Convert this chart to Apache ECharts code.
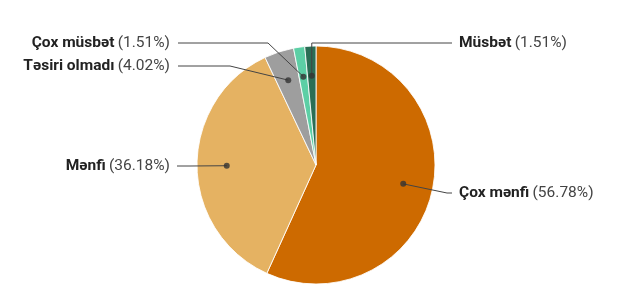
<!DOCTYPE html>
<html>
<head>
<meta charset="utf-8">
<script src="https://cdn.jsdelivr.net/npm/echarts@6/dist/echarts.min.js"></script>
<style>html,body{margin:0;padding:0;background:#fff}#c{width:635px;height:304px}</style>
</head>
<body>
<div id="c"></div>
<script>
// Data
const categories = ['Çox mənfi', 'Mənfi', 'Təsiri olmadı', 'Çox müsbət', 'Müsbət'];
const values = [56.78, 36.18, 4.02, 1.51, 1.51];
const colors = ['#CD6A00', '#E5B262', '#9E9E9E', '#5CCFA5', '#2A6E55'];

// Layout (positions of labels / leader lines)
const CX = 316, CY = 165, R = 119, DOT_R = 0.75;
const LABELS = [
  { x: 459, y: 193, align: 'left',  mid: [447, 193], end: [452, 193] },
  { x: 170, y: 166, align: 'right', mid: [190, 166], end: [177, 166] },
  { x: 170, y: 66,  align: 'right', mid: [230, 66],  end: [178, 66] },
  { x: 170, y: 43,  align: 'right', mid: [268, 43],  end: [178, 43] },
  { x: 459, y: 43,  align: 'left',  mid: null,       end: [452, 43] }
];

const total = values.reduce((a, b) => a + b, 0);
const mids = [];
let acc = 0;
values.forEach(v => { mids.push((acc + v / 2) / total * 100); acc += v; });

function dotPos(i) {
  const a = mids[i] / 100 * 2 * Math.PI;
  return [CX + DOT_R * R * Math.sin(a), CY - DOT_R * R * Math.cos(a)];
}

const pieData = categories.map((n, i) => ({ name: n, value: values[i], itemStyle: { color: colors[i] } }));

const chart = echarts.init(document.getElementById('c'));
chart.setOption({
  animation: false,
  polar: { center: [CX, CY], radius: R },
  angleAxis: { type: 'value', min: 0, max: 100, startAngle: 90, clockwise: true, show: false },
  radiusAxis: { type: 'value', min: 0, max: 1, show: false },
  series: [
    {
      type: 'pie',
      center: [CX, CY],
      radius: R,
      startAngle: 90,
      clockwise: true,
      z: 2,
      itemStyle: { borderColor: 'rgba(255,255,255,0.85)', borderWidth: 1 },
      label: { show: false },
      labelLine: { show: false },
      data: pieData
    },
    {
      type: 'pie',
      center: [CX, CY],
      radius: R,
      startAngle: 90,
      clockwise: true,
      z: 5,
      silent: true,
      avoidLabelOverlap: false,
      itemStyle: { color: 'rgba(0,0,0,0)', borderWidth: 0 },
      data: categories.map((n, i) => ({ name: n, value: values[i] })),
      label: {
        show: true,
        position: 'outside',
        formatter: p => '{b|' + p.name + '} {p|(' + p.value.toFixed(2) + '%)}',
        rich: {
          b: { fontFamily: 'Roboto', fontWeight: 'bold', fontSize: 15.5, color: '#222' },
          p: { fontFamily: 'Roboto', fontSize: 15.5, color: '#444' }
        }
      },
      labelLine: { show: true, lineStyle: { color: '#444', width: 1 } },
      labelLayout: function (params) {
        const L = LABELS[params.dataIndex];
        const p0 = dotPos(params.dataIndex);
        const m = L.mid ? L.mid : [p0[0], L.end[1]];
        return {
          x: L.x, y: L.y, align: L.align, verticalAlign: 'middle',
          labelLinePoints: [p0, m, L.end]
        };
      }
    },
    {
      type: 'scatter',
      coordinateSystem: 'polar',
      symbolSize: 6,
      itemStyle: { color: '#333' },
      silent: true,
      z: 10,
      data: mids.map(m => [DOT_R, m])
    }
  ]
});
</script>
</body>
</html>
